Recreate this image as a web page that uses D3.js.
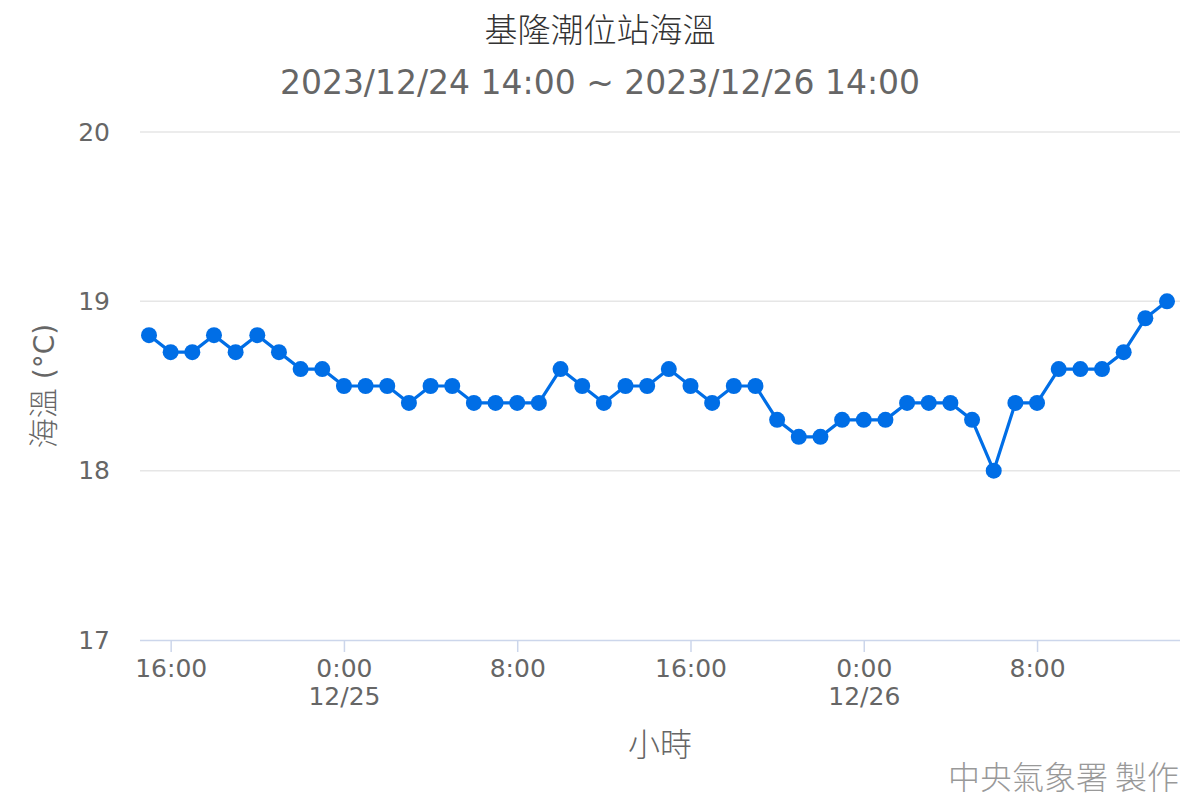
<!DOCTYPE html>
<html>
<head>
<meta charset="utf-8">
<script src="https://cdn.jsdelivr.net/npm/d3@7"></script>
<style>
  html, body { margin: 0; padding: 0; background: #fff; }
  svg { display: block; font-family: "DejaVu Sans", "Noto Sans CJK TC", sans-serif; }
  .cjk { font-family: "Noto Sans CJK TC", "Noto Sans", sans-serif; font-weight: 300; }
</style>
</head>
<body>
<svg id="chart" width="1200" height="800"></svg>
<script>
const titleText = "基隆潮位站海溫";
const subtitleText = "2023/12/24 14:00 ~ 2023/12/26 14:00";
const yAxisTitleCJK = "海溫";
const yAxisTitleUnit = " (°C)";
const xAxisTitle = "小時";
const creditText = "中央氣象署 製作";

const times = [
  "2023-12-24 15:00","2023-12-24 16:00","2023-12-24 17:00","2023-12-24 18:00","2023-12-24 19:00","2023-12-24 20:00",
  "2023-12-24 21:00","2023-12-24 22:00","2023-12-24 23:00","2023-12-25 00:00","2023-12-25 01:00","2023-12-25 02:00",
  "2023-12-25 03:00","2023-12-25 04:00","2023-12-25 05:00","2023-12-25 06:00","2023-12-25 07:00","2023-12-25 08:00",
  "2023-12-25 09:00","2023-12-25 10:00","2023-12-25 11:00","2023-12-25 12:00","2023-12-25 13:00","2023-12-25 14:00",
  "2023-12-25 15:00","2023-12-25 16:00","2023-12-25 17:00","2023-12-25 18:00","2023-12-25 19:00","2023-12-25 20:00",
  "2023-12-25 21:00","2023-12-25 22:00","2023-12-25 23:00","2023-12-26 00:00","2023-12-26 01:00","2023-12-26 02:00",
  "2023-12-26 03:00","2023-12-26 04:00","2023-12-26 05:00","2023-12-26 06:00","2023-12-26 07:00","2023-12-26 08:00",
  "2023-12-26 09:00","2023-12-26 10:00","2023-12-26 11:00","2023-12-26 12:00","2023-12-26 13:00","2023-12-26 14:00"
];
const seaTemp = [
  18.8, 18.7, 18.7, 18.8, 18.7, 18.8,
  18.7, 18.6, 18.6, 18.5, 18.5, 18.5,
  18.4, 18.5, 18.5, 18.4, 18.4, 18.4,
  18.4, 18.6, 18.5, 18.4, 18.5, 18.5,
  18.6, 18.5, 18.4, 18.5, 18.5, 18.3,
  18.2, 18.2, 18.3, 18.3, 18.3, 18.4,
  18.4, 18.4, 18.3, 18.0, 18.4, 18.4,
  18.6, 18.6, 18.6, 18.7, 18.9, 19.0
];
const yTicks = [17, 18, 19, 20];
const xTicks = ["2023-12-24 16:00","2023-12-25 00:00","2023-12-25 08:00","2023-12-25 16:00","2023-12-26 00:00","2023-12-26 08:00"];

const parse = d3.timeParse("%Y-%m-%d %H:%M");
const data = times.map((t, i) => ({ t: parse(t), v: seaTemp[i] }));

const svg = d3.select("#chart");
const plot = { left: 140, right: 1180, top: 132, bottom: 640 };

const x = d3.scaleTime()
  .domain([data[0].t, data[data.length - 1].t])
  .range([149, 1167]);
const y = d3.scaleLinear().domain([17, 20]).range([plot.bottom, plot.top]);

// gridlines
svg.append("g").selectAll("line")
  .data(yTicks.filter(d => d !== 17))
  .join("line")
  .attr("x1", plot.left).attr("x2", plot.right)
  .attr("y1", d => y(d)).attr("y2", d => y(d))
  .attr("stroke", "#e6e6e6").attr("stroke-width", 1.5);

// y axis
const yAxis = svg.append("g")
  .attr("transform", `translate(${plot.left},0)`)
  .call(d3.axisLeft(y).tickValues(yTicks).tickSize(0).tickPadding(30).tickFormat(d3.format("d")));
yAxis.select(".domain").remove();
yAxis.selectAll("text")
  .attr("fill", "#666").attr("font-size", 25)
  .attr("font-family", "'DejaVu Sans', sans-serif");

// x axis
const xAxis = svg.append("g")
  .attr("transform", `translate(0,${plot.bottom})`)
  .call(d3.axisBottom(x).tickValues(xTicks.map(parse)).tickSize(12).tickPadding(6).tickSizeOuter(0));
xAxis.select(".domain").attr("d", `M${plot.left},0.5H${plot.right}`).attr("stroke", "#ccd6eb").attr("stroke-width", 1.5);
xAxis.selectAll(".tick line").attr("stroke", "#ccd6eb").attr("stroke-width", 1.5);
xAxis.selectAll(".tick text").each(function(d) {
  const el = d3.select(this);
  el.text(null)
    .attr("fill", "#666").attr("font-size", 25)
    .attr("font-family", "'DejaVu Sans', sans-serif")
    .attr("y", null).attr("dy", null);
  el.append("tspan").attr("x", 0).attr("y", 37).text(d3.timeFormat("%-H:%M")(d));
  if (d.getHours() === 0) {
    el.append("tspan").attr("x", 0).attr("y", 65).text(d3.timeFormat("%m/%d")(d));
  }
});

// line
svg.append("path")
  .datum(data)
  .attr("fill", "none")
  .attr("stroke", "#006ee6")
  .attr("stroke-width", 3.2)
  .attr("stroke-linejoin", "round")
  .attr("d", d3.line().x(d => x(d.t)).y(d => y(d.v)));

// markers
svg.append("g").selectAll("circle")
  .data(data)
  .join("circle")
  .attr("cx", d => x(d.t)).attr("cy", d => y(d.v))
  .attr("r", 8)
  .attr("fill", "#006ee6");

// title
svg.append("text")
  .attr("class", "cjk")
  .attr("x", 600).attr("y", 42)
  .attr("text-anchor", "middle")
  .attr("font-size", 33).attr("fill", "#333")
  .text(titleText);

svg.append("text")
  .attr("x", 600).attr("y", 94)
  .attr("text-anchor", "middle")
  .attr("font-size", 33).attr("fill", "#666")
  .text(subtitleText);

// y axis title
const yt = svg.append("text")
  .attr("transform", "translate(54,386) rotate(-90)")
  .attr("text-anchor", "middle")
  .attr("font-size", 30).attr("fill", "#666");
yt.append("tspan").attr("class", "cjk").text(yAxisTitleCJK);
yt.append("tspan").attr("font-family", "'DejaVu Sans', sans-serif").attr("font-size", 28).text(yAxisTitleUnit);

// x axis title
svg.append("text")
  .attr("class", "cjk")
  .attr("x", 660).attr("y", 756)
  .attr("text-anchor", "middle")
  .attr("font-size", 32).attr("fill", "#666")
  .text(xAxisTitle);

// credit
svg.append("text")
  .attr("class", "cjk")
  .attr("x", 1179).attr("y", 789)
  .attr("text-anchor", "end")
  .attr("font-size", 32).attr("fill", "#999")
  .text(creditText);
</script>
</body>
</html>
